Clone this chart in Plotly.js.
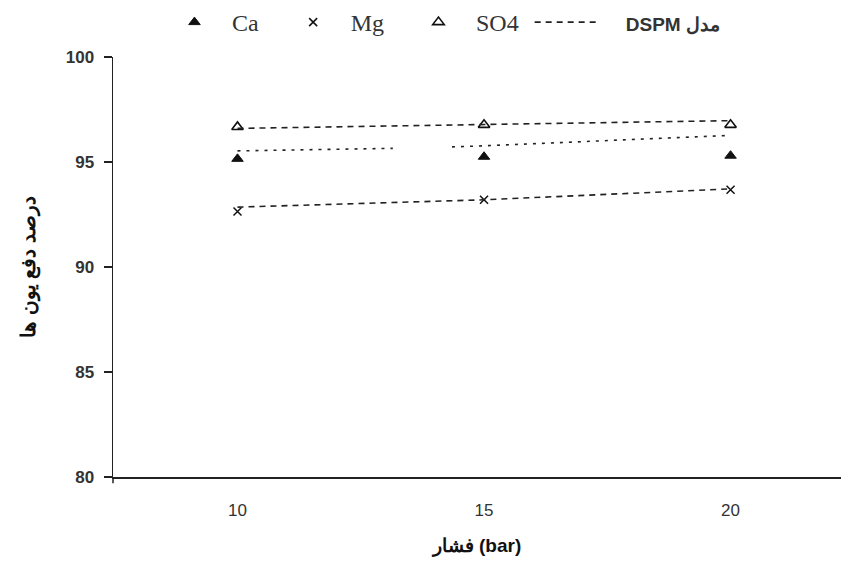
<!DOCTYPE html>
<html>
<head>
<meta charset="utf-8">
<script src="https://cdn.plot.ly/plotly-3.0.1.min.js"></script>
<style>html,body{margin:0;padding:0;background:#fff;}#chart{width:841px;height:564px;}</style>
</head>
<body>
<div id="chart"></div>
<script>
// Pressure (bar)
const pressure = [10, 15, 20];
// Measured rejection (%)
const caRejection = [95.15, 95.25, 95.3];
const mgRejection = [92.64, 93.2, 93.68];
const so4Rejection = [96.67, 96.77, 96.77];
// DSPM model lines
const modelSO4x = [10, 15, 20];
const modelSO4y = [96.6, 96.8, 96.97];
const modelCaX = [10, 13.15, null, 14.35, 15, 20];
const modelCaY = [95.53, 95.65, null, 95.72, 95.77, 96.27];
const modelMgX = [10, 15, 20];
const modelMgY = [92.85, 93.2, 93.72];
const yTicks = [80, 85, 90, 95, 100];
const xTicks = [10, 15, 20];

const dashA = '6px,5px';
const dotB = '3px,6px';
const sansB = 'Liberation Sans, Arial, sans-serif';
const nb = '\u00a0';
const traces = [
  {x: pressure, y: caRejection, name: 'Ca' + nb + nb, mode: 'markers', type: 'scatter',
   marker: {symbol: 'triangle-up', size: 10, color: '#111', line: {color: '#111', width: 1}}},
  {x: pressure, y: mgRejection, name: 'Mg' + nb + nb, mode: 'markers', type: 'scatter',
   marker: {symbol: 'x-thin', size: 8, color: '#111', line: {color: '#111', width: 1.5}}},
  {x: pressure, y: so4Rejection, name: 'SO4' + nb, mode: 'markers', type: 'scatter',
   marker: {symbol: 'triangle-up-open', size: 10, color: '#111', line: {color: '#111', width: 1.6}}},
  {x: modelSO4x, y: modelSO4y,
   name: '<span style="font-family:Liberation Sans;font-weight:bold;font-size:19px">' + nb + nb + nb + nb + 'DSPM مدل</span>',
   mode: 'lines', type: 'scatter', line: {color: '#222', width: 1.6, dash: dashA}},
  {x: modelCaX, y: modelCaY, showlegend: false, mode: 'lines', type: 'scatter', connectgaps: false,
   line: {color: '#222', width: 1.6, dash: dotB}},
  {x: modelMgX, y: modelMgY, showlegend: false, mode: 'lines', type: 'scatter',
   line: {color: '#222', width: 1.6, dash: dashA}}
];

const layout = {
  width: 841, height: 564,
  margin: {l: 113, r: 0, t: 56, b: 87},
  paper_bgcolor: '#fff', plot_bgcolor: '#fff',
  showlegend: true,
  legend: {orientation: 'h', x: 0.0604, xanchor: 'left', y: 1.081, yanchor: 'middle',
    itemwidth: 65,
    font: {family: 'Liberation Serif, Times New Roman, serif', size: 24, color: '#333'}},
  xaxis: {range: [7.475, 22.24], tickvals: xTicks, ticktext: xTicks.map(String),
    showgrid: false, zeroline: false, showline: true, linecolor: '#222', linewidth: 1.5,
    ticks: '', ticklabelstandoff: 17,
    tickfont: {family: sansB, size: 17, color: '#333'},
    title: {text: '<b>فشار (bar)</b>', standoff: 20,
      font: {family: sansB, size: 19, color: '#111'}}},
  yaxis: {range: [80, 100], tickvals: yTicks, ticktext: yTicks.map(String),
    showgrid: false, zeroline: false, showline: true, linecolor: '#222', linewidth: 1.5,
    ticks: 'outside', ticklen: 8, tickcolor: '#222', tickwidth: 1.5, ticklabelstandoff: 6,
    tickfont: {family: sansB, size: 17, color: '#333', weight: 'bold'},
    title: {text: '<b>درصد دفع یون ها</b>', standoff: 24,
      font: {family: sansB, size: 20, color: '#111'}}},
  shapes: [
    {type: 'line', xref: 'paper', yref: 'paper', x0: 0, x1: 0, y0: 0, y1: -0.015,
     line: {color: '#222', width: 1.5}}
  ]
};

Plotly.newPlot('chart', traces, layout, {displayModeBar: false, staticPlot: true});
</script>
</body>
</html>
